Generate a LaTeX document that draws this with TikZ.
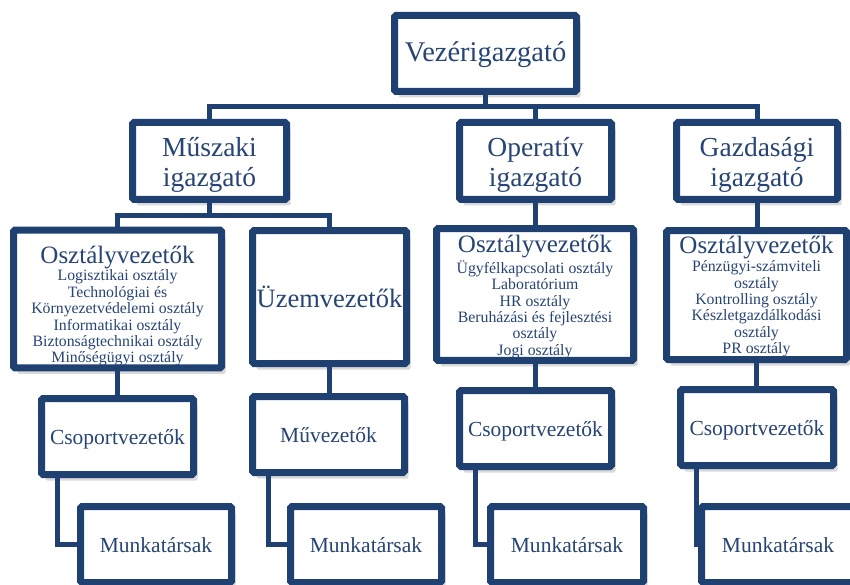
\documentclass[tikz,border=0pt]{standalone}
\usepackage{fontspec}
\setmainfont{Liberation Serif}
\usetikzlibrary{shadows,calc}
\definecolor{bordc}{RGB}{31,65,114}
\definecolor{txtc}{RGB}{38,68,116}
\newcommand\fVez{\fontsize{28.5}{30}\selectfont}
\newcommand\fIgz{\fontsize{27.5}{30}\selectfont}
\newcommand\fHead{\fontsize{25}{26}\selectfont}
\newcommand\fList{\fontsize{15.8}{16.4}\selectfont}
\newcommand\fUzem{\fontsize{26.5}{28}\selectfont}
\newcommand\fLow{\fontsize{21.5}{23}\selectfont}
\newcommand\lastdp{\rule[-5pt]{0pt}{5pt}}
\begin{document}
\begin{tikzpicture}[x=1pt,y=-1pt,
  box/.style={draw=bordc, line width=7pt, fill=white, rounded corners=1.5pt,
    inner sep=0pt, outer sep=0pt, align=center, text=txtc,
    drop shadow={shadow xshift=4pt, shadow yshift=-6pt, opacity=0.15, fill=black}},
  low/.style={box, minimum height=76pt, font=\fLow, text height=18pt, text depth=2.4pt},
  igz/.style={box, minimum height=77pt, font=\fIgz},
  conn/.style={draw=bordc, line width=5pt},
  ]
\useasboundingbox (0,0) rectangle (850,585);
\clip (0,0) rectangle (850,585);

% top
\node[box, minimum width=182pt, minimum height=76pt, font=\fVez, text height=21pt, text depth=4pt] (vez) at (485.5,53.5) {Vezérigazgató};
% directors
\node[igz, minimum width=154pt] (musz) at (209.5,161) {\rule{0pt}{26pt}Műszaki\\igazgató};
\node[igz, minimum width=152pt] (oper) at (535.5,161) {\rule{0pt}{26pt}Operatív\\igazgató};
\node[igz, minimum width=161pt] (gazd) at (757,161) {\rule{0pt}{26pt}Gazdasági\\igazgató};
% department heads
\node[box, minimum width=208pt, minimum height=137pt, font=\fList] (ov1) at (117.5,299)
  {{\fHead\rule{0pt}{33pt}Osztályvezetők}\\[1.5pt]Logisztikai osztály\\Technológiai és\\Környezetvédelemi osztály\\Informatikai osztály\\Biztonságtechnikai osztály\\Minőségügyi osztály\lastdp};
\node[box, minimum width=154pt, minimum height=133pt, font=\fUzem] (uzem) at (329.5,297) {Üzemvezetők};
\node[box, minimum width=197pt, minimum height=128pt, font=\fList] (ov2) at (535,294.5)
  {{\fHead\rule{0pt}{24pt}Osztályvezetők}\\[1.5pt]Ügyfélkapcsolati osztály\\Laboratórium\\HR osztály\\Beruházási és fejlesztési\\osztály\\Jogi osztály\lastdp};
\node[box, minimum width=180pt, minimum height=129pt, font=\fList] (ov3) at (756.5,295)
  {{\fHead\rule{0pt}{22.5pt}Osztályvezetők}\\[1.5pt]Pénzügyi-számviteli\\osztály\\Kontrolling osztály\\Készletgazdálkodási\\osztály\\PR osztály\lastdp};
% group leaders
\node[low, minimum width=152pt] (cs1) at (117.5,436.5) {Csoportvezetők};
\node[low, minimum width=152pt] (muv) at (328.5,434.5) {Művezetők};
\node[low, minimum width=152pt] (cs3) at (535.5,428.5) {Csoportvezetők};
\node[low, minimum width=153pt] (cs4) at (757,427.5) {Csoportvezetők};
% staff
\node[low, minimum width=151pt] (mt1) at (156,544.5) {Munkatársak};
\node[low, minimum width=151pt] (mt2) at (366,544.5) {Munkatársak};
\node[low, minimum width=153pt] (mt3) at (567,544.5) {Munkatársak};
\node[low, minimum width=153pt] (mt4) at (778,544.5) {Munkatársak};

% connectors
\coordinate (bus1) at ($(vez.south)+(0,15.5)$);
\draw[conn] (vez.south) -- (bus1);
\draw[conn] (musz.north) |- (bus1) -| (gazd.north);
\draw[conn] (bus1) -| (oper.north);
\coordinate (bus2) at ($(musz.south)+(0,16.5)$);
\draw[conn] (musz.south) -- (bus2);
\draw[conn] (ov1.north) |- (bus2) -| (uzem.north);
\draw[conn] (oper.south) -- (oper.south |- ov2.north);
\draw[conn] (gazd.south) -- (gazd.south |- ov3.north);
\draw[conn] (ov1.south) -- (ov1.south |- cs1.north);
\draw[conn] (uzem.south) -- (uzem.south |- muv.north);
\draw[conn] (ov2.south) -- (ov2.south |- cs3.north);
\draw[conn] (ov3.south) -- (ov3.south |- cs4.north);
\draw[conn] ($(cs1.south west)+(15.5,0)$) |- (mt1.west);
\draw[conn] ($(muv.south west)+(15.5,0)$) |- (mt2.west);
\draw[conn] ($(cs3.south west)+(15.5,0)$) |- (mt3.west);
\draw[conn] ($(cs4.south west)+(15.5,0)$) |- (mt4.west);
\end{tikzpicture}
\end{document}
